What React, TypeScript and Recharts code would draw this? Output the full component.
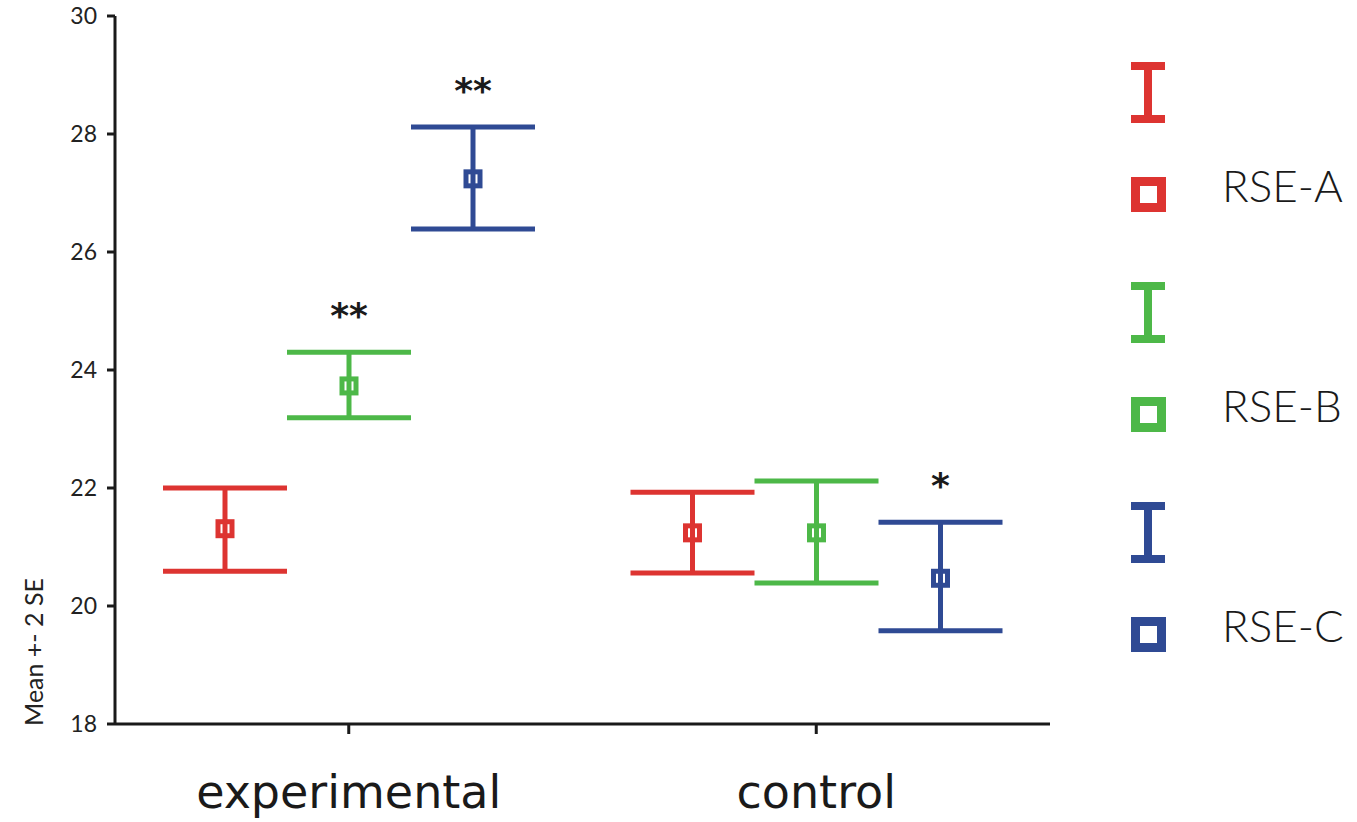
import { Bar, ComposedChart, ErrorBar, LabelList, XAxis, YAxis } from "recharts";

const groups = ["experimental", "control"];
const seriesNames = ["RSE-A", "RSE-B", "RSE-C"];
const seriesColors = ["#dd3431", "#4db848", "#2f4a94"];

// mean, lower and upper bound (mean +- 2 SE) per group
const meanA = [21.31, 21.24];
const lowA = [20.59, 20.56];
const highA = [22.0, 21.93];
const meanB = [23.73, 21.24];
const lowB = [23.19, 20.39];
const highB = [24.3, 22.12];
const meanC = [27.24, 20.47];
const lowC = [26.39, 19.58];
const highC = [28.12, 21.42];

const sigA = ["", ""];
const sigB = ["**", ""];
const sigC = ["**", "*"];

const yTicks = [18, 20, 22, 24, 26, 28, 30];

const means = [meanA, meanB, meanC];
const lows = [lowA, lowB, lowC];
const highs = [highA, highB, highC];
const sigs = [sigA, sigB, sigC];
const keys = ["a", "b", "c"];

const data = groups.map((g, gi) => {
  const row: Record<string, unknown> = { group: g };
  keys.forEach((k, si) => {
    const m = means[si][gi];
    row[k] = m;
    row[k + "Err"] = [m - lows[si][gi], highs[si][gi] - m];
    row[k + "Sig"] = sigs[si][gi];
  });
  return row;
});

const marker = (color: string) => (props: any) => {
  const { x, y, width } = props;
  const cx = x + width / 2;
  return <rect x={cx - 7} y={y - 7} width={14} height={14} fill="none" stroke={color} strokeWidth={5} />;
};

const sigLabel = (si: number) => (props: any) => {
  const { index, value } = props;
  if (!value) return null;
  const vb = props.viewBox ?? props;
  const m = means[si][index];
  const perUnit = vb.height / (m - yTicks[0]);
  const capY = vb.y - (highs[si][index] - m) * perUnit;
  return (
    <text x={vb.x + vb.width / 2} y={capY - 24} textAnchor="middle" fontSize={36} fontWeight="bold" fontFamily="DejaVu Sans" fill="#1a1a1a">
      {value}
    </text>
  );
};

function Legend() {
  return (
    <svg width={1357} height={822} style={{ position: "absolute", left: 0, top: 0, pointerEvents: "none" }}>
      {seriesNames.map((name, i) => {
        const top = 62 + i * 220;
        const c = seriesColors[i];
        return (
          <g key={name}>
            <rect x={1131} y={top} width={34} height={8} fill={c} />
            <rect x={1144} y={top} width={8} height={61} fill={c} />
            <rect x={1131} y={top + 53} width={34} height={8} fill={c} />
            <rect x={1135.5} y={top + 119.5} width={26} height={26} fill="none" stroke={c} strokeWidth={9} />
            <text x={1222} y={top + 140} fontSize={44} fontFamily="Lato" fontWeight={300} fill="#1a1a1a">
              {name}
            </text>
          </g>
        );
      })}
    </svg>
  );
}

export default function App() {
  return (
    <div style={{ position: "absolute", left: 0, top: 0, width: 1357, height: 822, background: "#fff" }}>
      <ComposedChart width={1357} height={822} data={data} margin={{ top: 16, right: 307, left: 55, bottom: 0 }} barSize={100} barGap={24}>
        <XAxis
          dataKey="group"
          height={98}
          tickSize={10}
          tickMargin={41}
          axisLine={{ stroke: "#1a1a1a", strokeWidth: 3 }}
          tickLine={{ stroke: "#1a1a1a", strokeWidth: 3 }}
          tick={{ fontSize: 46, fontFamily: "DejaVu Sans", fill: "#1a1a1a" }}
        />
        <XAxis xAxisId="top" dataKey="group" orientation="top" height={0} tick={false} tickLine={false} axisLine={{ stroke: "#333", strokeWidth: 2 }} />
        <YAxis
          domain={[18, 30]}
          ticks={yTicks}
          width={60}
          tickSize={8}
          tickMargin={10}
          axisLine={{ stroke: "#1a1a1a", strokeWidth: 3 }}
          tickLine={{ stroke: "#1a1a1a", strokeWidth: 3 }}
          tick={{ fontSize: 23, fontFamily: "Lato", fill: "#222" }}
          label={{
            content: () => (
              <text x={33} y={652} transform="rotate(-90 33 652)" textAnchor="middle" dominantBaseline="central" fontSize={25} fontFamily="Lato" fill="#222">
                Mean +- 2 SE
              </text>
            ),
          }}
        />
        <YAxis yAxisId="right" orientation="right" domain={[18, 30]} width={0} tick={false} tickLine={false} axisLine={{ stroke: "#333", strokeWidth: 2 }} />
        {keys.map((k, si) => (
          <Bar key={k} dataKey={k} name={seriesNames[si]} isAnimationActive={false} shape={marker(seriesColors[si])}>
            <ErrorBar dataKey={k + "Err"} width={62} strokeWidth={5} stroke={seriesColors[si]} direction="y" isAnimationActive={false} />
            <LabelList dataKey={k + "Sig"} content={sigLabel(si)} />
          </Bar>
        ))}
      </ComposedChart>
      <Legend />
    </div>
  );
}
